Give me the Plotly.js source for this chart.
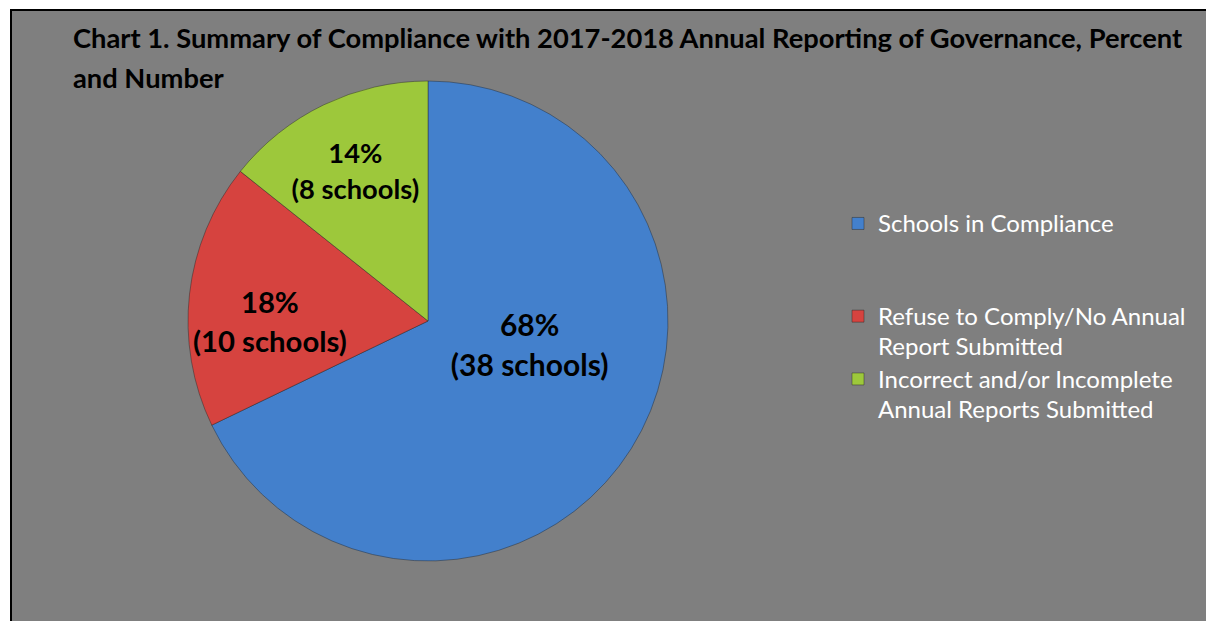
<!DOCTYPE html>
<html>
<head>
<meta charset="utf-8">
<script src="https://cdn.plot.ly/plotly-3.0.1.min.js"></script>
<style>html,body{margin:0;padding:0;background:#fff;}#chart{width:1206px;height:621px;}</style>
</head>
<body>
<div id="chart"></div>
<script>
// Data
var categories = [
  "Schools in Compliance",
  "Refuse to Comply/No Annual<br>Report Submitted",
  "Incorrect and/or Incomplete<br>Annual Reports Submitted"
];
var schoolCounts = [38, 10, 8];
var sliceColors = ["#4380cc", "#d6433f", "#9dc83b"];
var chartTitleLines = [
  "Chart 1. Summary of Compliance with 2017-2018 Annual Reporting of Governance, Percent",
  "and Number"
];

// Legend entries padded with blank lines so the item spacing matches the original
var legendPad = ["<br> <br> ", "", ""];
var legendLabels = categories.map(function (c, i) {
  return "<span style='font-size:24px'>" + c.split("<br>").join("</span><br><span style='font-size:24px'>") + "</span>" + legendPad[i];
});

// Slice labels; trailing blank lines lift the text in the large slice as in the original
var labelPad = ["<br> <br> ", "", ""];
var sliceText = labelPad.map(function (p) {
  return "<span style='font-size:30px'>%{percent:.0%}</span><br><span style='font-size:30px'>(%{value} schools)</span>" + p;
});

var trace = {
  type: "pie",
  labels: legendLabels,
  values: schoolCounts,
  sort: false,
  direction: "clockwise",
  rotation: 0,
  marker: {colors: sliceColors, line: {color: "rgba(40,40,40,0.45)", width: 1}},
  texttemplate: sliceText,
  textposition: "inside",
  insidetextorientation: "horizontal",
  insidetextfont: {family: "Lato, sans-serif", size: 31, color: "#000", weight: "bold"},
  hoverinfo: "label+value+percent",
  domain: {x: [188/1206, 668/1206], y: [1 - 561/621, 1 - 81/621]}
};

var layout = {
  width: 1206,
  height: 621,
  margin: {l: 0, r: 0, t: 0, b: 0},
  paper_bgcolor: "#ffffff",
  showlegend: true,
  title: {
    text: chartTitleLines.map(function (t) { return "<span style='font-size:27.3px'>" + t + "</span>"; }).join("<br>"),
    x: 73/1206, xanchor: "left", xref: "paper",
    y: 1 - 48/621, yanchor: "top", yref: "paper",
    font: {family: "Lato, sans-serif", size: 31, color: "#000", weight: "bold"},
    automargin: false
  },
  legend: {
    x: 838/1206, xanchor: "left",
    y: 1 - 202/621, yanchor: "top",
    valign: "top",
    bgcolor: "rgba(0,0,0,0)",
    font: {family: "Lato, sans-serif", size: 23, color: "#ffffff"}
  },
  shapes: [{
    type: "rect", xref: "paper", yref: "paper", layer: "below",
    x0: 11/1206, x1: 1.02, y0: -0.02, y1: 1 - 10/621,
    fillcolor: "#7f7f7f", line: {color: "#000000", width: 2}
  }]
};

Plotly.newPlot("chart", [trace], layout, {displayModeBar: false, staticPlot: true});
</script>
</body>
</html>
